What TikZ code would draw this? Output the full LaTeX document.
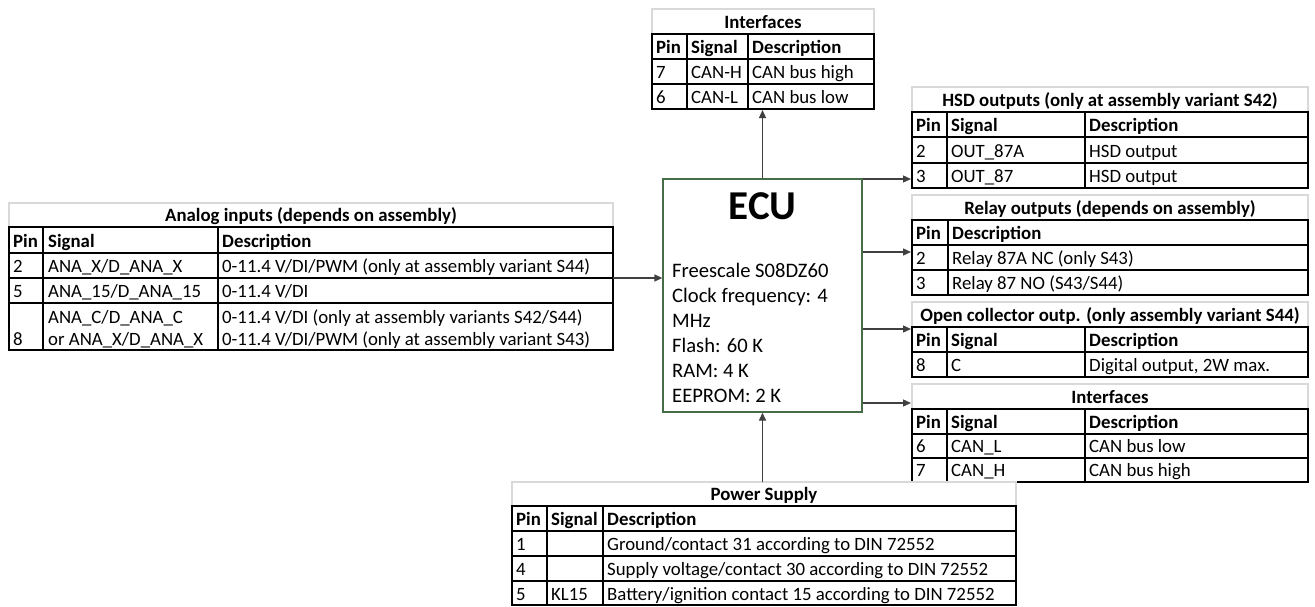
\documentclass[tikz,border=0pt]{standalone}
\usepackage{fontspec}
\setmainfont{Carlito}
\usetikzlibrary{arrows.meta}
\newcommand\tabfont{\fontsize{18.8}{22}\selectfont}
\newcommand\ecufont{\fontsize{20.6}{25}\selectfont}
\definecolor{ecugreen}{RGB}{70,110,70}
\definecolor{titlegray}{RGB}{217,217,217}
\definecolor{conngray}{RGB}{64,64,64}

\begin{document}
\begin{tikzpicture}[x=1pt,y=-1pt,
  grid/.style={line width=2pt},
  ttlbox/.style={draw=titlegray,line width=1.5pt},
  cell/.style={anchor=base west,inner sep=0pt,font=\tabfont},
  hcell/.style={anchor=base west,inner sep=0pt,font=\tabfont\bfseries},
  ttl/.style={anchor=base,inner sep=0pt,font=\tabfont\bfseries},
  conn/.style={draw=conngray,line width=1.3pt,-{Triangle[length=8pt,width=7pt]}}]
\useasboundingbox (0,0) rectangle (1315,606);

% ECU block
\node[draw=ecugreen,line width=1.3pt,minimum width=199pt,minimum height=233pt,inner sep=0pt] (ecu) at (762.5,295.5) {};
\node[anchor=base,inner sep=0pt,font=\fontsize{41}{41}\selectfont\bfseries] (ecu-t) at (762.5,219) {ECU};
\foreach \t [count=\i] in {Freescale S08DZ60,Clock frequency: 4,MHz,Flash: 60 K,RAM: 4 K,EEPROM: 2 K}
  \node[anchor=base west,inner sep=0pt,font=\ecufont] (ecu-l\i) at (672,252+25*\i) {\t};

% analog inputs
\draw[ttlbox] (9,203) rectangle (613,227);
\draw[grid] (9,227) rectangle (613,350);
\foreach \y in {253,278,303} \draw[grid] (9,\y) -- (613,\y);
\foreach \x in {43,218} \draw[grid] (\x,227) -- (\x,350);
\node[ttl] (an-t) at (311,221) {Analog inputs (depends on assembly)};
\node[hcell] (an-h1) at (13,247) {Pin};
\node[hcell] (an-h2) at (48,247) {Signal};
\node[hcell] (an-h3) at (222,247) {Description};
\node[cell] (an-p1) at (13,272) {2};
\node[cell] (an-s1) at (48,272) {ANA\_X/D\_ANA\_X};
\node[cell] (an-d1) at (222,272) {0-11.4 V/DI/PWM (only at assembly variant S44)};
\node[cell] (an-p2) at (13,297) {5};
\node[cell] (an-s2) at (48,297) {ANA\_15/D\_ANA\_15};
\node[cell] (an-d2) at (222,297) {0-11.4 V/DI};
\node[cell] (an-p3) at (13,345) {8};
\node[cell] (an-s3) at (48,323) {ANA\_C/D\_ANA\_C};
\node[cell] (an-s4) at (48,345) {or ANA\_X/D\_ANA\_X};
\node[cell] (an-d3) at (222,323) {0-11.4 V/DI (only at assembly variants S42/S44)};
\node[cell] (an-d4) at (222,345) {0-11.4 V/DI/PWM (only at assembly variant S43)};
\coordinate (an-out) at (613,278);

% interfaces (top)
\draw[ttlbox] (652,9) rectangle (874,34);
\draw[grid] (652,34) rectangle (874,109);
\foreach \y in {59,84} \draw[grid] (652,\y) -- (874,\y);
\foreach \x in {687,748} \draw[grid] (\x,34) -- (\x,109);
\node[ttl] (if-t) at (763,28) {Interfaces};
\node[hcell] (if-h1) at (656,53) {Pin};
\node[hcell] (if-h2) at (691,53) {Signal};
\node[hcell] (if-h3) at (752,53) {Description};
\node[cell] (if-p1) at (656,78) {7};
\node[cell] (if-s1) at (691,78) {CAN-H};
\node[cell] (if-d1) at (752,78) {CAN bus high};
\node[cell] (if-p2) at (656,103) {6};
\node[cell] (if-s2) at (691,103) {CAN-L};
\node[cell] (if-d2) at (752,103) {CAN bus low};
\coordinate (if-in) at (763,110);

% HSD outputs
\draw[ttlbox] (912,87) rectangle (1308,112);
\draw[grid] (912,112) rectangle (1308,188);
\foreach \y in {137,163} \draw[grid] (912,\y) -- (1308,\y);
\foreach \x in {947,1085} \draw[grid] (\x,112) -- (\x,188);
\node[ttl] (hsd-t) at (1110,106) {HSD outputs (only at assembly variant S42)};
\node[hcell] (hsd-h1) at (916,131) {Pin};
\node[hcell] (hsd-h2) at (951,131) {Signal};
\node[hcell] (hsd-h3) at (1089,131) {Description};
\node[cell] (hsd-p1) at (916,157) {2};
\node[cell] (hsd-s1) at (951,157) {OUT\_87A};
\node[cell] (hsd-d1) at (1089,157) {HSD output};
\node[cell] (hsd-p2) at (916,182) {3};
\node[cell] (hsd-s2) at (951,182) {OUT\_87};
\node[cell] (hsd-d2) at (1089,182) {HSD output};
\coordinate (hsd-in) at (911,179);

% relay outputs
\draw[ttlbox] (912,195) rectangle (1308,220);
\draw[grid] (912,220) rectangle (1308,295);
\foreach \y in {245,270} \draw[grid] (912,\y) -- (1308,\y);
\draw[grid] (948,220) -- (948,295);
\node[ttl] (rel-t) at (1110,214) {Relay outputs (depends on assembly)};
\node[hcell] (rel-h1) at (916,239) {Pin};
\node[hcell] (rel-h2) at (952,239) {Description};
\node[cell] (rel-p1) at (916,264) {2};
\node[cell] (rel-d1) at (952,264) {Relay 87A NC (only S43)};
\node[cell] (rel-p2) at (916,289) {3};
\node[cell] (rel-d2) at (952,289) {Relay 87 NO (S43/S44)};
\coordinate (rel-in) at (911,252);

% open collector output
\draw[ttlbox] (912,302) rectangle (1308,327);
\draw[grid] (912,327) rectangle (1308,377);
\draw[grid] (912,352) -- (1308,352);
\foreach \x in {947,1085} \draw[grid] (\x,327) -- (\x,377);
\node[ttl] (oc-t) at (1110,321) {Open collector outp. (only assembly variant S44)};
\node[hcell] (oc-h1) at (916,346) {Pin};
\node[hcell] (oc-h2) at (951,346) {Signal};
\node[hcell] (oc-h3) at (1089,346) {Description};
\node[cell] (oc-p1) at (916,371) {8};
\node[cell] (oc-s1) at (951,371) {C};
\node[cell] (oc-d1) at (1089,371) {Digital output, 2W max.};
\coordinate (oc-in) at (911,329);

% interfaces (right)
\draw[ttlbox] (912,384) rectangle (1308,409);
\draw[grid] (912,409) rectangle (1308,482);
\foreach \y in {434,458} \draw[grid] (912,\y) -- (1308,\y);
\foreach \x in {947,1085} \draw[grid] (\x,409) -- (\x,482);
\node[ttl] (ifr-t) at (1110,403) {Interfaces};
\node[hcell] (ifr-h1) at (916,428) {Pin};
\node[hcell] (ifr-h2) at (951,428) {Signal};
\node[hcell] (ifr-h3) at (1089,428) {Description};
\node[cell] (ifr-p1) at (916,452) {6};
\node[cell] (ifr-s1) at (951,452) {CAN\_L};
\node[cell] (ifr-d1) at (1089,452) {CAN bus low};
\node[cell] (ifr-p2) at (916,476) {7};
\node[cell] (ifr-s2) at (951,476) {CAN\_H};
\node[cell] (ifr-d2) at (1089,476) {CAN bus high};
\coordinate (ifr-in) at (911,403);

% power supply
\draw[ttlbox] (512,482) rectangle (1016,506);
\draw[grid] (512,506) rectangle (1016,605);
\foreach \y in {531,556,581} \draw[grid] (512,\y) -- (1016,\y);
\foreach \x in {547,603} \draw[grid] (\x,506) -- (\x,605);
\node[ttl] (ps-t) at (764,500) {Power Supply};
\node[hcell] (ps-h1) at (516,525) {Pin};
\node[hcell] (ps-h2) at (551,525) {Signal};
\node[hcell] (ps-h3) at (607,525) {Description};
\node[cell] (ps-p1) at (516,550) {1};
\node[cell] (ps-d1) at (607,550) {Ground/contact 31 according to DIN 72552};
\node[cell] (ps-p2) at (516,575) {4};
\node[cell] (ps-d2) at (607,575) {Supply voltage/contact 30 according to DIN 72552};
\node[cell] (ps-p3) at (516,600) {5};
\node[cell] (ps-s3) at (551,600) {KL15};
\node[cell] (ps-d3) at (607,600) {Battery/ignition contact 15 according to DIN 72552};
\coordinate (ps-out) at (763,482);

% connectors
\draw[conn] (an-out) -- (ecu.west |- an-out);
\draw[conn] (ecu.north) -- (ecu.north |- if-in);
\draw[conn] (ecu.north |- ps-out) -- (ecu.south);
\foreach \c in {hsd-in,rel-in,oc-in,ifr-in} \draw[conn] (ecu.east |- \c) -- (\c);
\end{tikzpicture}
\end{document}
